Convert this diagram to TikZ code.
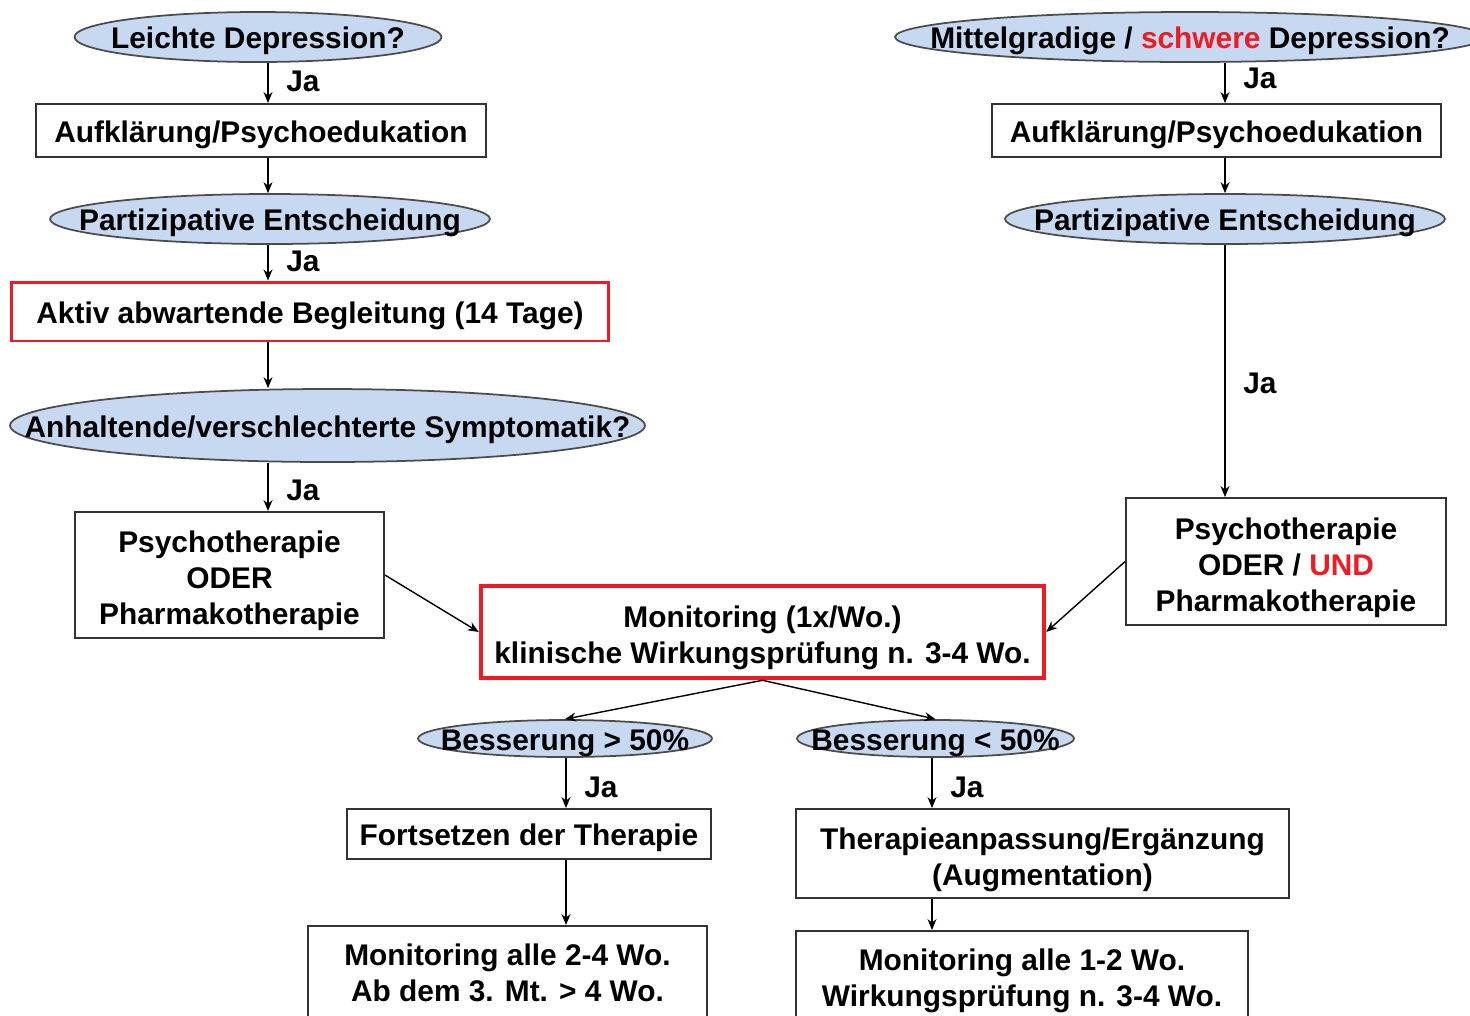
\documentclass[tikz,border=0pt]{standalone}
\usepackage{fontspec}
\setmainfont{Liberation Sans}
\usetikzlibrary{shapes.geometric,arrows.meta}
\definecolor{qblue}{RGB}{198,217,241}
\definecolor{qred}{RGB}{237,28,36}
\newcommand{\hoch}[1]{\rule{0pt}{#1}}

\begin{document}
\begin{tikzpicture}[x=0.02cm,y=-0.02cm,
  font=\fontsize{17}{20.5}\selectfont\bfseries,
  every node/.style={execute at begin node=\rule{0pt}{17pt}},
  frage/.style={ellipse,draw=black!70,fill=qblue,line width=1pt,inner xsep=-2cm,inner ysep=-4pt},
  kasten/.style={draw=black!80,line width=1.1pt,inner sep=0pt,align=center},
  rotkasten/.style={kasten,draw=qred},
  pfeil/.style={-{Stealth[length=2.2mm,width=1.8mm]},line width=0.8pt},
  ja/.style={right=10pt,inner sep=0pt}]
  \useasboundingbox (0,0) rectangle (1470,1015);
  \clip (0,0) rectangle (1470,1015);
  \coordinate (la) at (268,0);
  \coordinate (ra) at (1225,0);
  \coordinate (lb) at (566,0);
  \coordinate (rb) at (932,0);

  \node[frage,minimum width=7.34cm,minimum height=1cm] (e1) at (258,37) {Leichte Depression?};
  \node[kasten,minimum width=9cm,minimum height=1.06cm] (b1) at (261,130.5) {Aufklärung/Psychoedukation};
  \node[frage,minimum width=8.8cm,minimum height=1cm] (e2) at (270,219) {Partizipative Entscheidung};
  \node[rotkasten,line width=1.7pt,minimum width=11.96cm,minimum height=1.18cm] (r1) at (310,311.5) {Aktiv abwartende Begleitung (14 Tage)};
  \node[frage,minimum width=12.7cm,minimum height=1.46cm] (e3) at (327.5,425.5) {Anhaltende/verschlechterte Symptomatik?};
  \node[kasten,minimum width=6.18cm,minimum height=2.52cm] (b2) at (229.5,575) {\hoch{19pt}Psychotherapie\\ODER\\Pharmakotherapie};

  \node[frage,minimum width=11.8cm,minimum height=1cm] (e4) at (1190,37) {Mittelgradige / \textcolor{qred}{schwere} Depression?};
  \node[kasten,minimum width=8.98cm,minimum height=1.06cm] (b3) at (1216.5,130.5) {Aufklärung/Psychoedukation};
  \node[frage,minimum width=8.8cm,minimum height=1cm] (e5) at (1225,219) {Partizipative Entscheidung};
  \node[kasten,minimum width=6.4cm,minimum height=2.54cm] (b4) at (1286,561.5) {\hoch{19pt}Psychotherapie\\ODER / \textcolor{qred}{UND}\\Pharmakotherapie};

  \node[rotkasten,line width=2.6pt,minimum width=11.26cm,minimum height=1.84cm] (m) at (762.5,632) {\hoch{19.5pt}Monitoring (1x/Wo.)\\klinische Wirkungsprüfung n. 3-4 Wo.};

  \node[frage,minimum width=5.88cm,minimum height=0.74cm] (e6) at (565,738.5) {Besserung > 50\%};
  \node[frage,minimum width=5.54cm,minimum height=0.74cm] (e7) at (935.5,738.5) {Besserung < 50\%};
  \node[kasten,minimum width=7.28cm,minimum height=1cm] (b5) at (529,834) {Fortsetzen der Therapie};
  \node[kasten,minimum width=9.86cm,minimum height=1.78cm] (b7) at (1042.5,853.5) {\hoch{19pt}Therapieanpassung/Ergänzung\\(Augmentation)};
  \node[kasten,minimum width=7.98cm,minimum height=1.86cm] (b6) at (507.5,972.5) {Monitoring alle 2-4 Wo.\\Ab dem 3. Mt. > 4 Wo.};
  \node[kasten,minimum width=9.04cm,minimum height=1.78cm] (b8) at (1022,975.5) {\hoch{18.5pt}Monitoring alle 1-2 Wo.\\Wirkungsprüfung n. 3-4 Wo.};

  \draw[pfeil] (e1.south -| la) -- node[ja,pos=0.35] (ja1) {Ja} (b1.north -| la);
  \draw[pfeil] (b1.south -| la) -- (e2.north -| la);
  \draw[pfeil] (e2.south -| la) -- node[ja,pos=0.33] (ja2) {Ja} (r1.north -| la);
  \draw[pfeil] (r1.south -| la) -- (e3.north -| la);
  \draw[pfeil] (e3.south -| la) -- node[ja,pos=0.47] (ja3) {Ja} (b2.north -| la);
  \draw[pfeil] (b2.east) -- (m.west);

  \draw[pfeil] (e4.south -| ra) -- node[ja,pos=0.28] (ja4) {Ja} (b3.north -| ra);
  \draw[pfeil] (b3.south -| ra) -- (e5.north -| ra);
  \draw[pfeil] (e5.south -| ra) -- node[ja,pos=0.53] (ja5) {Ja} (b4.north -| ra);
  \draw[pfeil] (b4.west) -- (m.east);

  \draw[pfeil] (m.south) -- (e6.north);
  \draw[pfeil] (m.south) -- (e7.north);
  \draw[pfeil] (e6.south -| lb) -- node[ja,pos=0.5] (ja6) {Ja} (b5.north -| lb);
  \draw[pfeil] (b5.south -| lb) -- (b6.north -| lb);
  \draw[pfeil] (e7.south -| rb) -- node[ja,pos=0.5] (ja7) {Ja} (b7.north -| rb);
  \draw[pfeil] (b7.south -| rb) -- (b8.north -| rb);
\end{tikzpicture}
\end{document}
